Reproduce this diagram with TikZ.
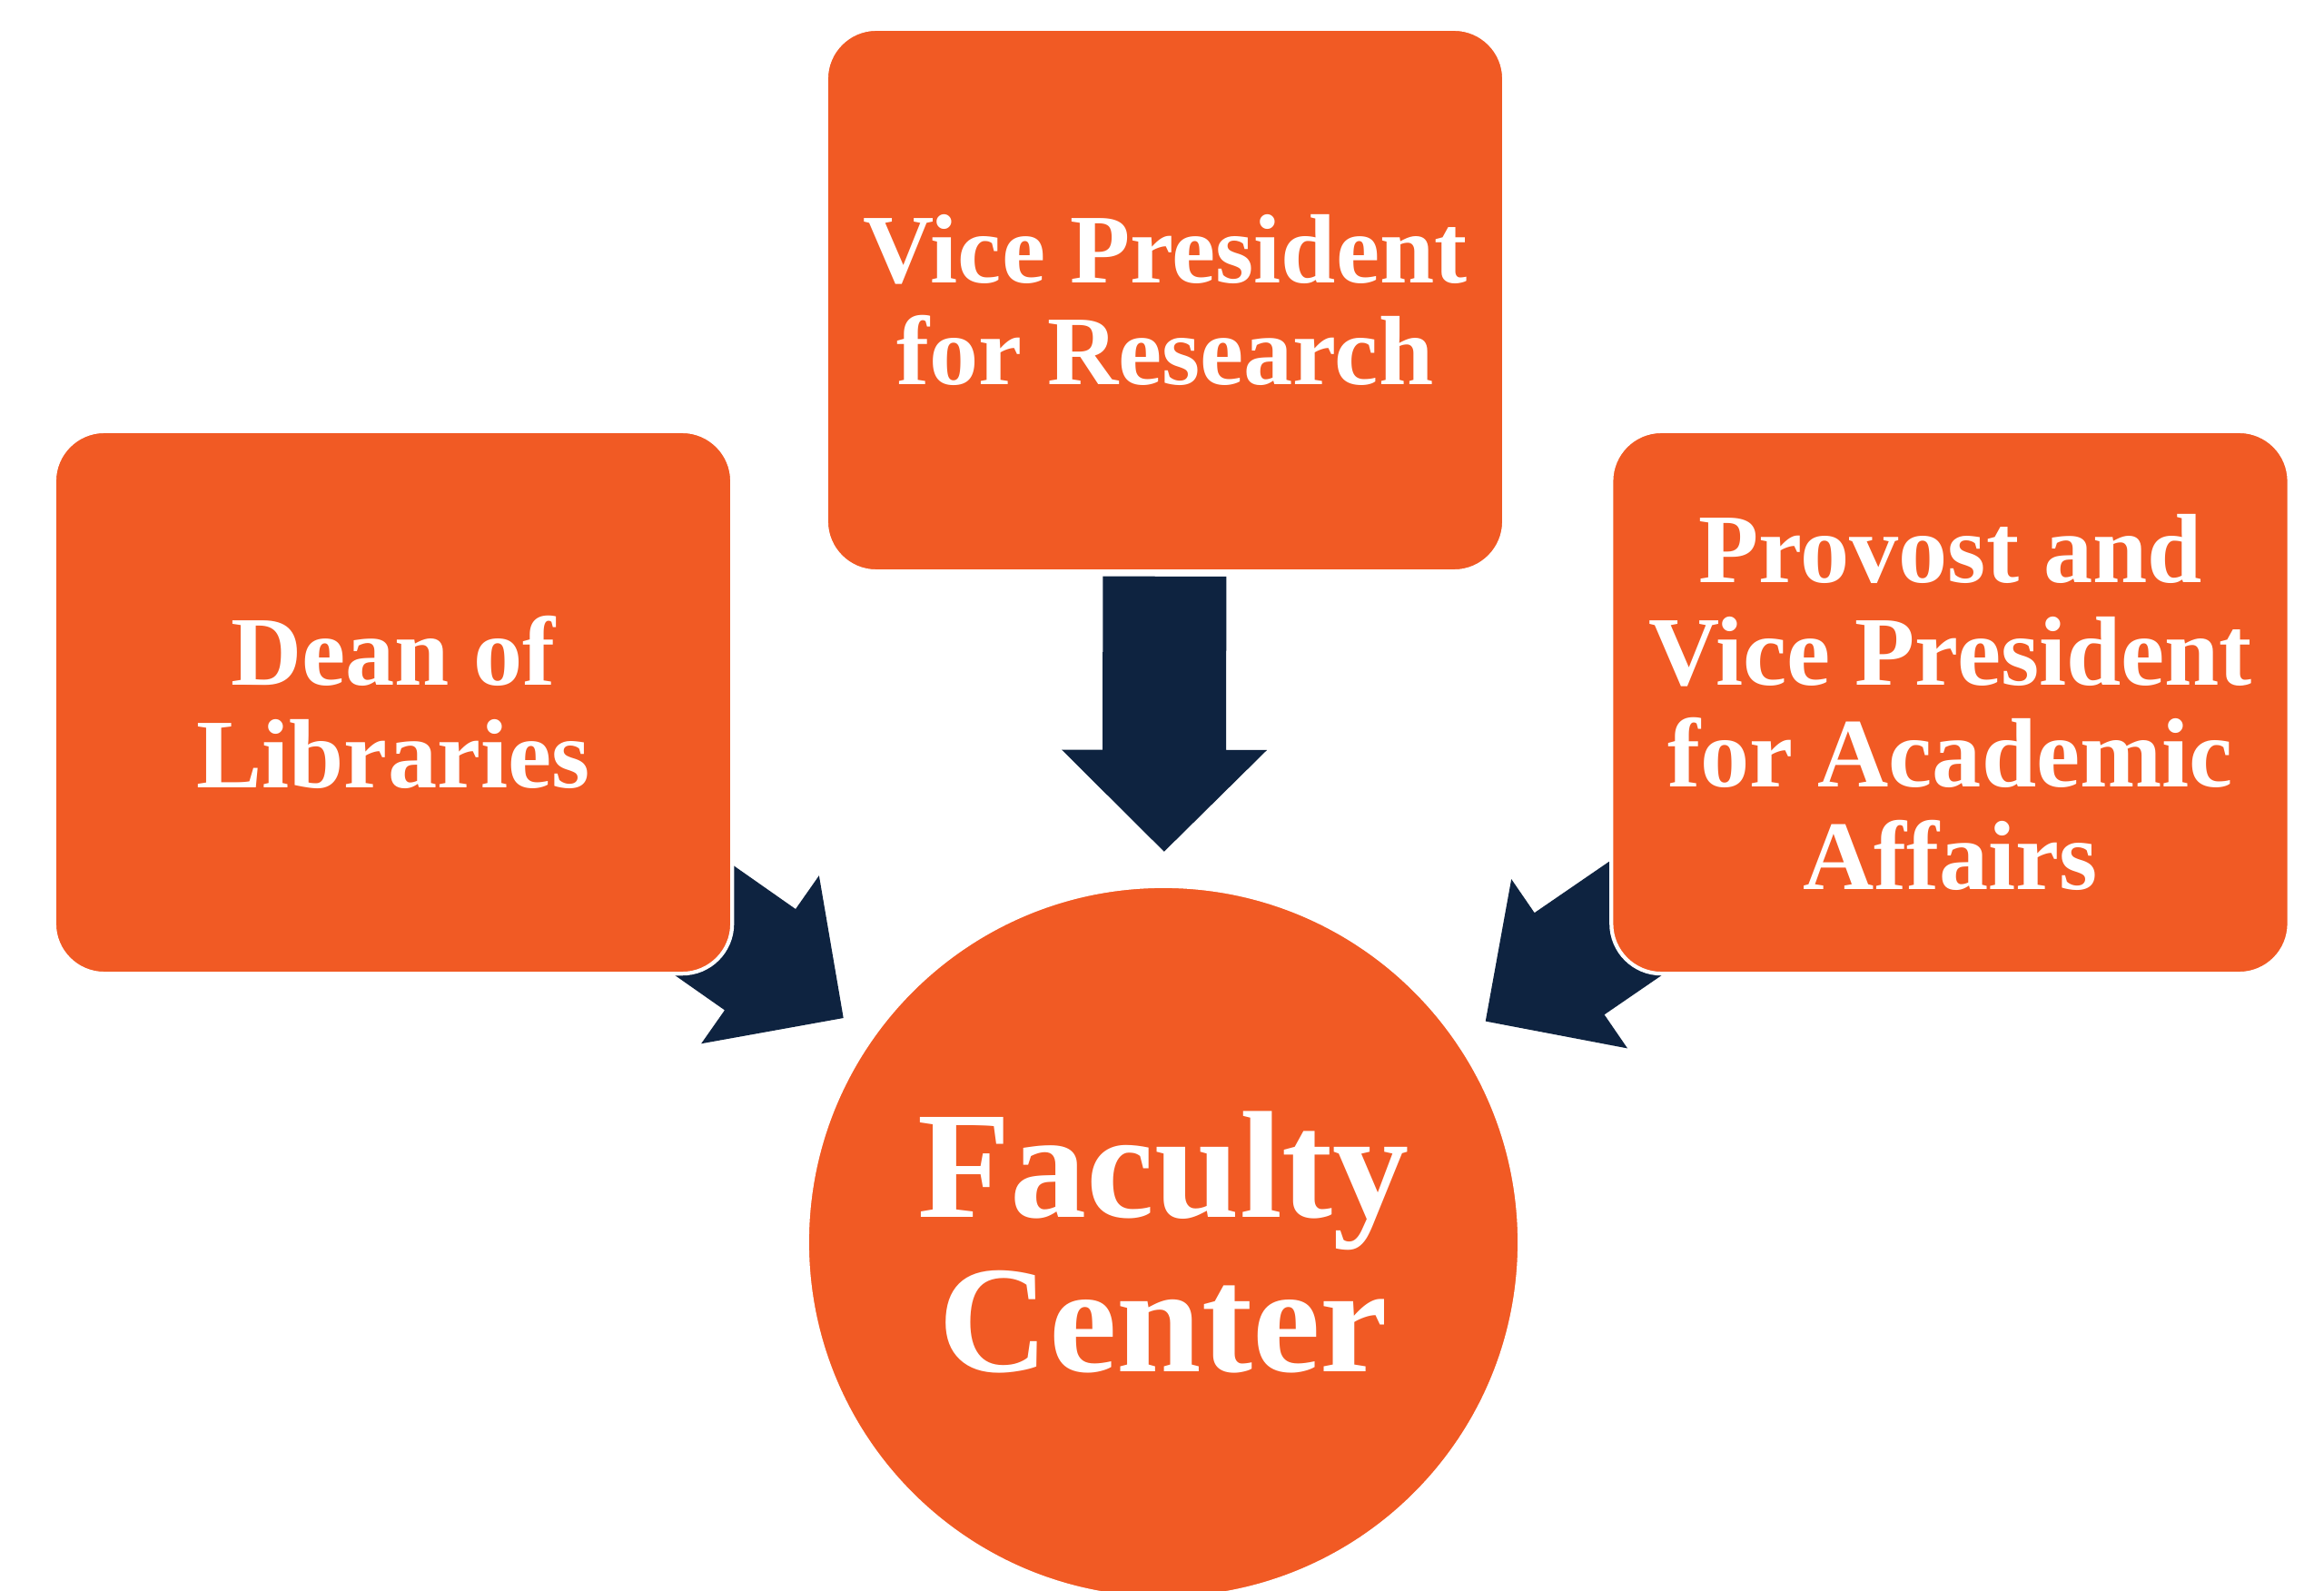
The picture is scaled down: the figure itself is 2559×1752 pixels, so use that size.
\documentclass[tikz,border=0pt]{standalone}
\usepackage{fontspec}
\setmainfont{Liberation Serif}
\usetikzlibrary{calc,backgrounds}
\definecolor{orangeA}{HTML}{F15A24}
\definecolor{navyA}{HTML}{0E2340}
\begin{document}
\begin{tikzpicture}[x=0.01cm,y=-0.01cm,
  box/.style={rectangle, rounded corners=0.55cm, fill=orangeA, draw=white,
    line width=1.2pt, minimum width=7.46cm, minimum height=5.97cm,
    inner sep=0pt, outer sep=0pt, align=center, text=white,
    font=\fontsize{30.8pt}{32.1pt}\selectfont\bfseries},
  hub/.style={circle, fill=orangeA, draw=white, line width=1.2pt,
    minimum size=7.84cm, inner sep=0pt, outer sep=0pt, align=center, text=white,
    font=\fontsize{47.8pt}{48.5pt}\selectfont\bfseries},
  blockarrow/.pic={\fill[navyA] (0,0) -- (-112,113) -- (-112,68) -- (-303,68)
    -- (-303,-68) -- (-112,-68) -- (-112,-113) -- cycle;}
]
\useasboundingbox (0,0) rectangle (2559,1752);

\node[box] (vp) at (1283,330.5) {Vice President\\for Research};
\node[box] (dean) at (433,773.5) {Dean of\\Libraries};
\node[box] (prov) at (2147.5,773.5) {Provost and\\Vice President\\for Academic\\Affairs};
\node[hub] (fc) at (1281,1368) {Faculty\\Center};

\begin{scope}[on background layer]
  \fill[white] (0,0) rectangle (2559,1752);
  \foreach \src in {vp,dean,prov}{
    \path let \p1=($(fc.center)-(\src.center)$), \n1={atan2(\y1,\x1)} in
      ($(fc.center)!4.3cm!(\src.center)$) pic[rotate=\n1]{blockarrow};
  }
\end{scope}
\end{tikzpicture}
\end{document}
